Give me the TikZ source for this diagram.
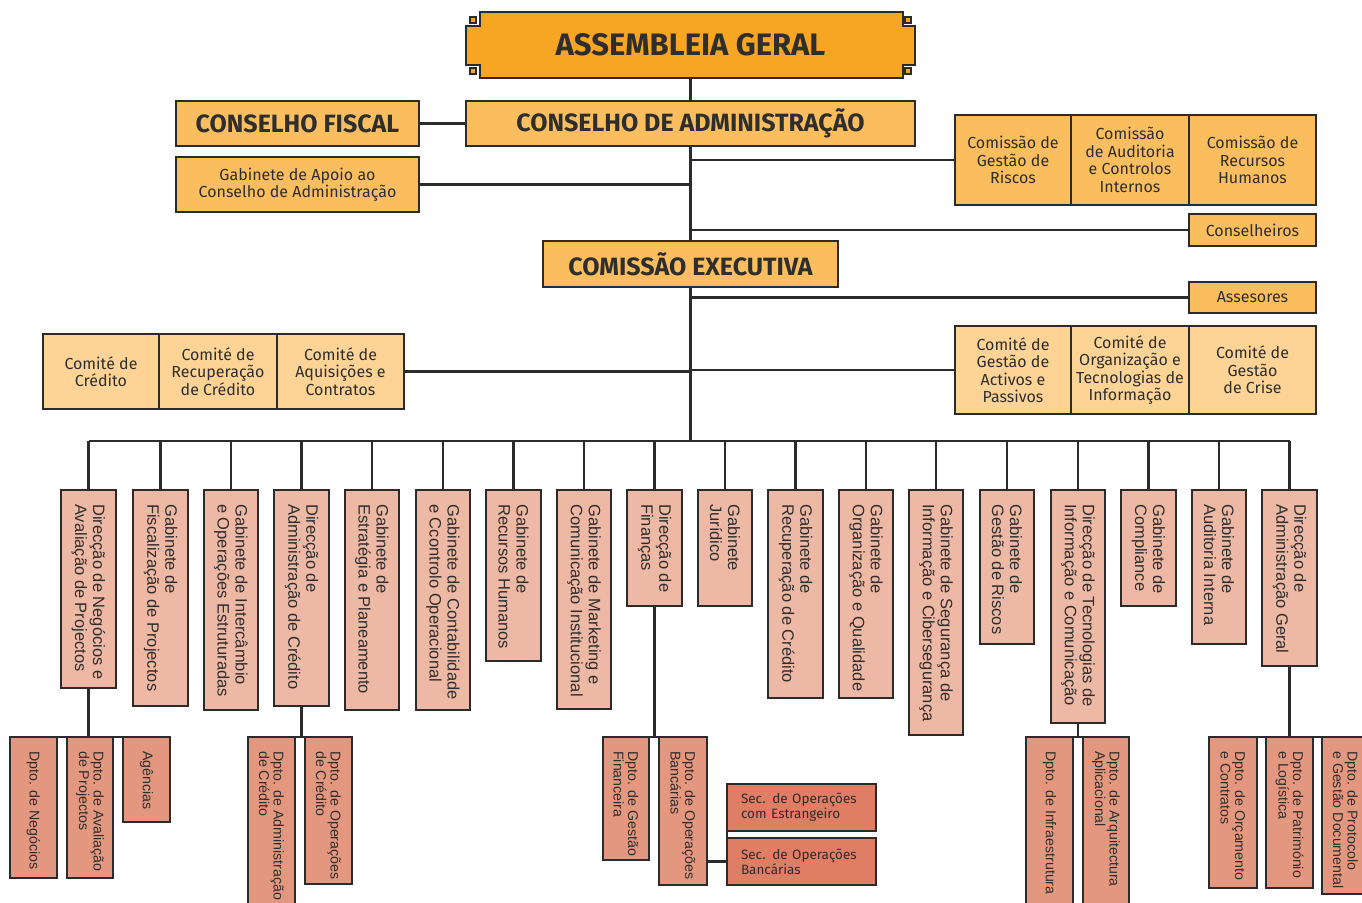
\documentclass[tikz,border=0pt]{standalone}
\usepackage{fontspec}
\setmainfont{Fira Sans}
\newfontfamily\headfont{Fira Sans}
\newfontfamily\rotfont{Liberation Sans}
\usetikzlibrary{calc}

\definecolor{linec}{HTML}{2B2B2B}
\definecolor{txt}{HTML}{2E2E2E}
\definecolor{orangec}{HTML}{F6A623}
\definecolor{goldc}{HTML}{FBBE5F}
\definecolor{paleg}{HTML}{FDD496}
\definecolor{salmon}{HTML}{EDB8A4}
\definecolor{dptoc}{HTML}{E3977F}
\definecolor{secc}{HTML}{DF7D65}

\tikzset{
  frame/.style={draw=linec, line width=2.6pt},
  box/.style={frame, inner sep=0pt, outer sep=0pt, text=txt, align=center},
  conn/.style={draw=linec, line width=2.2pt},
  head/.style={box, fill=goldc, font=\headfont\bfseries\fontsize{25}{27}\selectfont},
  gold/.style={box, fill=goldc, font=\fontsize{16}{17.5}\selectfont},
  pale/.style={box, fill=paleg, font=\fontsize{16}{17.5}\selectfont},
  unit/.style={box, fill=salmon},
  dpto/.style={box, fill=dptoc},
  sec/.style={box, fill=secc, font=\fontsize{13.5}{15}\selectfont, align=left, text width=121pt},
  unittxt/.style={text=txt, font=\rotfont\fontsize{16.5}{18}\selectfont},
  dptotxt/.style={text=txt, font=\rotfont\fontsize{14.2}{14.5}\selectfont},
}

% box given by its corners: style, name, x1, y1, x2, y2, text
\newcommand\orgbox[7]{%
  \node[#1, minimum width={(#5)-(#3)}, minimum height={(#6)-(#4)}]
    (#2) at ({((#3)+(#5))/2},{((#4)+(#6))/2}) {#7};}
% tall box with its text running downwards from the top
\newcommand\orgcol[8]{%
  \orgbox{#1}{#2}{#3}{#4}{#5}{#6}{}%
  \node[#8, rotate=-90, anchor=west, inner sep=0pt, align=left]
    (#2-t) at ([yshift=-14pt]#2.north) {#7};}

\begin{document}
\begin{tikzpicture}[x=1pt, y=-1pt]
\useasboundingbox (0,0) rectangle (1362,902);
\clip (0,0) rectangle (1362,902);

% ---- general assembly, framed plaque
\filldraw[frame, fill=orangec]
  (480,12) -- (903,12) -- (903,26) -- (915,26) -- (915,65) -- (903,65)
  -- (903,78) -- (480,78) -- (480,65) -- (466,65) -- (466,26) -- (480,26) -- cycle;
\foreach \cx/\cy in {473/20, 908/20, 473/71, 908/71}
  \filldraw[draw=linec, line width=1.4pt, fill=orangec]
    (\cx-3,\cy-3) rectangle (\cx+3,\cy+3);
\node[inner sep=0pt, outer sep=0pt, minimum width=449pt, minimum height=66pt,
      text=txt, font=\headfont\bfseries\fontsize{31}{33}\selectfont]
  (ag) at (690.5,45) {ASSEMBLEIA GERAL};

% ---- boards
\orgbox{head}{ca}{466}{101}{915}{146}{CONSELHO DE ADMINISTRAÇÃO}
\orgbox{head}{cf}{176}{101}{419}{146}{CONSELHO FISCAL}
\orgbox{gold}{gab}{176}{157}{419}{212}{Gabinete de Apoio ao\\Conselho de Administração}
\orgbox{gold}{com1}{955}{115}{1071}{205}{Comissão de\\Gestão de\\Riscos}
\orgbox{gold}{com2}{1071}{115}{1189}{205}{Comissão\\de Auditoria\\e Controlos\\Internos}
\orgbox{gold}{com3}{1189}{115}{1316}{205}{Comissão de\\Recursos\\Humanos}
\orgbox{gold}{cons}{1189}{214}{1316}{246}{Conselheiros}
\orgbox{head}{ce}{543}{241}{838}{287}{COMISSÃO EXECUTIVA}
\orgbox{gold}{ases}{1189}{282}{1316}{313}{Assesores}

\orgbox{pale}{cl1}{43}{334}{159}{409}{Comité de\\Crédito}
\orgbox{pale}{cl2}{159}{334}{277}{409}{Comité de\\Recuperação\\de Crédito}
\orgbox{pale}{cl3}{277}{334}{404}{409}{Comité de\\Aquisições e\\Contratos}
\orgbox{pale}{cr1}{955}{326}{1071}{414}{Comité de\\Gestão de\\Activos e\\Passivos}
\orgbox{pale}{cr2}{1071}{326}{1189}{414}{Comité de\\Organização e\\Tecnologias de\\Informação}
\orgbox{pale}{cr3}{1189}{326}{1316}{414}{Comité de\\Gestão\\de Crise}

% ---- links of the upper part
\draw[conn] (ag.south) -- (ca.north);
\draw[conn] (ca.south) -- (ce.north);
\draw[conn] (cf.east) -- (ca.west);
\draw[conn] (gab.east) -- (gab.east -| ca.south);
\draw[conn] (com1.west) -- (com1.west -| ca.south);
\draw[conn] (cons.west) -- (cons.west -| ca.south);
\draw[conn] (ases.west) -- (ases.west -| ce.south);
\draw[conn] (cl3.east) -- (cl3.east -| ce.south);
\draw[conn] (cr1.west) -- (cr1.west -| ce.south);

% ---- directorates and offices
\coordinate (bus) at (690.5,441);
\orgcol{unit}{u1}{61}{490}{116}{688}{Direcção de Negócios e\\Avaliação de Projectos}{unittxt}
\orgcol{unit}{u2}{133}{490}{188}{706}{Gabinete de\\Fiscalização de Projectos}{unittxt}
\orgcol{unit}{u3}{204}{490}{258}{710}{Gabinete de Intercâmbio\\e Operações Estruturadas}{unittxt}
\orgcol{unit}{u4}{274}{490}{329}{706}{Direcção de\\Administração de Crédito}{unittxt}
\orgcol{unit}{u5}{345}{490}{399}{710}{Gabinete de\\Estratégia e Planeamento}{unittxt}
\orgcol{unit}{u6}{416}{490}{470}{710}{Gabinete de Contabilidade\\e Ccontrolo Operacional}{unittxt}
\orgcol{unit}{u7}{486}{490}{541}{661}{Gabinete de\\Recursos Humanos}{unittxt}
\orgcol{unit}{u8}{557}{490}{611}{709}{Gabinete de Marketing e\\Comunicação Institucional}{unittxt}
\orgcol{unit}{u9}{627}{490}{682}{606}{Direcção de\\Finanças}{unittxt}
\orgcol{unit}{u10}{698}{490}{752}{606}{Gabinete\\Jurídico}{unittxt}
\orgcol{unit}{u11}{768}{490}{823}{698}{Gabinete de\\Recuperação de Crédito}{unittxt}
\orgcol{unit}{u12}{839}{490}{893}{698}{Gabinete de\\Organização e Qualidade}{unittxt}
\orgcol{unit}{u13}{909}{490}{963}{735}{Gabinete de Segurança de\\Informação e Cibersegurança}{unittxt}
\orgcol{unit}{u14}{980}{490}{1034}{644}{Gabinete de\\Gestão de Riscos}{unittxt}
\orgcol{unit}{u15}{1051}{490}{1105}{723}{Direcção de Tecnologias de\\Informação e Comunicação}{unittxt}
\orgcol{unit}{u16}{1121}{490}{1176}{606}{Gabinete de\\Compliance}{unittxt}
\orgcol{unit}{u17}{1192}{490}{1246}{644}{Gabinete de\\Auditoria Interna}{unittxt}
\orgcol{unit}{u18}{1262}{490}{1317}{666}{Direcção de\\Administração Geral}{unittxt}

\draw[conn] (ce.south) -- (bus);
\draw[conn] (u1.north |- bus) -- (u18.north |- bus);
\foreach \i in {1,...,18}
  \draw[conn] (u\i.north) -- (u\i.north |- bus);

% ---- departments
\draw[conn] (10,737) -- (170,737);
\draw[conn] (248,737) -- (352,737);
\draw[conn] (603,737) -- (707,737);
\draw[conn] (1026,737) -- (1129,737);
\draw[conn] (1209,737) -- (1369,737);

\orgcol{dpto}{d1a}{10}{737}{57}{878}{Dpto. de Negócios}{dptotxt}
\orgcol{dpto}{d1b}{67}{737}{113}{878}{Dpto. de Avaliação\\de Projectos}{dptotxt}
\orgcol{dpto}{d1c}{123}{737}{170}{822}{Agências}{dptotxt}
\orgcol{dpto}{d4a}{248}{737}{295}{912}{Dpto. de Administração\\de Crédito}{dptotxt}
\orgcol{dpto}{d4b}{305}{737}{352}{884}{Dpto. de Operações\\de Crédito}{dptotxt}
\orgcol{dpto}{d9a}{603}{737}{649}{860}{Dpto. de Gestão\\Financeira}{dptotxt}
\orgcol{dpto}{d9b}{659}{737}{707}{885}{Dpto. de Operações\\Bancárias}{dptotxt}
\orgcol{dpto}{d15a}{1026}{737}{1073}{912}{Dpto. de Infraestrutura}{dptotxt}
\orgcol{dpto}{d15b}{1083}{737}{1129}{912}{Dpto. de Arquitectura\\Aplicacional}{dptotxt}
\orgcol{dpto}{d18a}{1209}{737}{1257}{888}{Dpto. de Orçamento\\e Contratos}{dptotxt}
\orgcol{dpto}{d18b}{1266}{737}{1313}{888}{Dpto. de Património\\e Logística}{dptotxt}
\orgcol{dpto}{d18c}{1322}{737}{1369}{894}{Dpto. de Protocolo\\e Gestão Documental}{dptotxt}

\draw[conn] (u1.south) -- (u1.south |- d1a.north);
\draw[conn] (u4.south) -- (u4.south |- d4a.north);
\draw[conn] (u9.south) -- (u9.south |- d9a.north);
\draw[conn] (u15.south) -- (u15.south |- d15a.north);
\draw[conn] (u18.south) -- (u18.south |- d18a.north);

% ---- sections under banking operations
\orgbox{sec}{s1}{727}{784}{876}{831}{Sec. de Operações\\com Estrangeiro}
\orgbox{sec}{s2}{727}{838}{876}{885}{Sec. de Operações\\Bancárias}
\draw[conn] (d9b.east |- s2.west) -- (s2.west);
\draw[conn] (s1.south west) -- (s2.north west);
\end{tikzpicture}
\end{document}
